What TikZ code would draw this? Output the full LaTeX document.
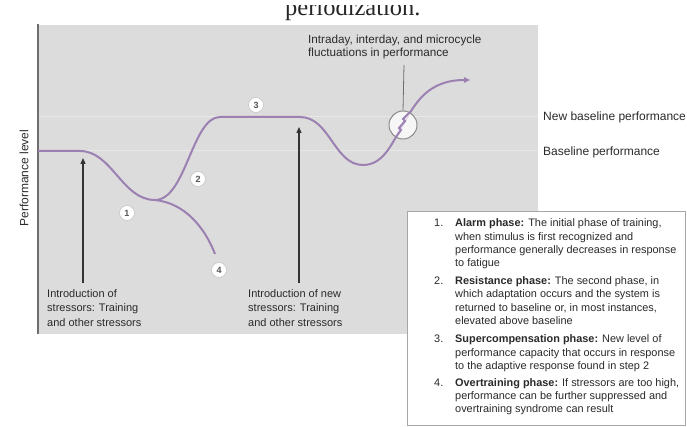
\documentclass[tikz,border=0pt]{standalone}
\usepackage{fontspec}
\setmainfont{Liberation Sans}
\newfontfamily\seriffont{Liberation Serif}
\usetikzlibrary{arrows.meta}
\definecolor{panel}{HTML}{DCDCDC}
\definecolor{bline}{HTML}{E8E8E8}
\definecolor{curvecol}{HTML}{9C80B2}
\definecolor{axiscol}{HTML}{6E6E6E}
\definecolor{txt}{HTML}{2A2A2A}
\begin{document}
\begin{tikzpicture}[x=1pt,y=-1pt,
  lbl/.style={inner sep=0pt, anchor=base west, font=\fontsize{11}{13}\selectfont, text=txt},
  lgd/.style={inner sep=0pt, anchor=base west, font=\fontsize{10.9}{13}\selectfont, text=txt},
  numc/.style={circle, fill=white, draw=gray!45, line width=0.6pt, inner sep=0pt, minimum size=15pt, font=\fontsize{9}{9}\selectfont\bfseries, text=txt!80},
  curve/.style={draw=curvecol, line width=2pt},
  stressarrow/.style={draw=black!80, line width=1.3pt, -{Triangle[length=6pt,width=5pt]}},
  leader/.style={draw=axiscol, line width=0.8pt}]
\useasboundingbox (0,0) rectangle (687,427);
% title, cut at the top
\node[inner sep=0pt, anchor=base west, font=\seriffont\fontsize{24.5}{26}\selectfont, text=black!85] (title) at (285,16) {periodization.};
\fill[white] (0,-10) rectangle (687,5);
% panel
\fill[panel] (38,25) rectangle (538,334);
\draw[bline, line width=1pt] (38,117) -- (538,117);
\draw[bline, line width=1pt] (38,151) -- (538,151);
\draw[axiscol, line width=2pt] (38,24) -- (38,334);
\node[rotate=90, inner sep=0pt, font=\fontsize{12}{13}\selectfont, text=txt] (ylab) at (24,178) {Performance level};
% coordinates
\coordinate (s0) at (38,151);
\coordinate (s1) at (80,151);
\coordinate (m1) at (155,200);
\coordinate (p0) at (220,117);
\coordinate (p1) at (300,117);
\coordinate (m2) at (363,165);
\coordinate (c) at (403,125);
\coordinate (e) at (470,80);
\coordinate (e4) at (215,254);
% curves
\draw[curve] (s0) -- (s1) .. controls (112,151) and (122,200) .. (m1)
  .. controls (186,200) and (192,117) .. (p0) -- (p1)
  .. controls (330,117) and (334,165) .. (m2)
  .. controls (385,165) and (393,140) .. (c);
\draw[curve, -{Triangle[length=6pt,width=5.5pt]}] (c) .. controls (415,103) and (428,80) .. (e);
\draw[curve] (m1) .. controls (185,203) and (205,228) .. (e4);
% circle of fluctuations
\coordinate (lt) at (404,65);
\node[circle, draw=axiscol!80, line width=1pt, fill=white, fill opacity=0.75, minimum size=28pt, inner sep=0pt] (fc) at (c) {};
\draw[curvecol, line width=2pt] (396,137) -- (401,130) -- (399,128) -- (405,121) -- (403,119) -- (410,112);
\draw[leader] (lt) -- (fc.north);
\node[lbl, font=\fontsize{11.7}{13}\selectfont] (ft1) at (308,44) {Intraday, interday, and microcycle};
\node[lbl, font=\fontsize{11.7}{13}\selectfont] (ft2) at (308,57) {fluctuations in performance};
% baseline labels
\node[lbl, font=\fontsize{12}{13}\selectfont] (nb) at (543,121) {New baseline performance};
\node[lbl, font=\fontsize{12}{13}\selectfont] (bp) at (543,156) {Baseline performance};
% number labels
\node[numc] (n1) at (127,213) {1};
\node[numc] (n2) at (198,179) {2};
\node[numc] (n3) at (256,105) {3};
\node[numc] (n4) at (219,270) {4};
% stressor arrows
\coordinate (a1b) at (83,283);
\coordinate (a1t) at (83,158);
\coordinate (a2b) at (299,283);
\coordinate (a2t) at (299,127);
\draw[stressarrow] (a1b) -- (a1t);
\draw[stressarrow] (a2b) -- (a2t);
\node[lbl] (i1a) at (47,297) {Introduction of};
\node[lbl] (i1b) at (47,311) {stressors: Training};
\node[lbl] (i1c) at (47,326) {and other stressors};
\node[lbl] (i2a) at (248,297) {Introduction of new};
\node[lbl] (i2b) at (248,311) {stressors: Training};
\node[lbl] (i2c) at (248,326) {and other stressors};
% legend box
\draw[fill=white, draw=gray!70, line width=1pt] (407,212) rectangle (685,425);
\node[lgd] (k1) at (434,227) {1.};
\node[lgd] (k1a) at (455,227) {\textbf{Alarm phase:} The initial phase of training,};
\node[lgd] (k1b) at (455,241) {when stimulus is first recognized and};
\node[lgd] (k1c) at (455,254) {performance generally decreases in response};
\node[lgd] (k1d) at (455,267) {to fatigue};
\node[lgd] (k2) at (434,284) {2.};
\node[lgd] (k2a) at (455,284) {\textbf{Resistance phase:} The second phase, in};
\node[lgd] (k2b) at (455,297) {which adaptation occurs and the system is};
\node[lgd] (k2c) at (455,311) {returned to baseline or, in most instances,};
\node[lgd] (k2d) at (455,324) {elevated above baseline};
\node[lgd] (k3) at (434,342) {3.};
\node[lgd] (k3a) at (455,342) {\textbf{Supercompensation phase:} New level of};
\node[lgd] (k3b) at (455,356) {performance capacity that occurs in response};
\node[lgd] (k3c) at (455,369) {to the adaptive response found in step 2};
\node[lgd] (k4) at (434,386) {4.};
\node[lgd] (k4a) at (455,386) {\textbf{Overtraining phase:} If stressors are too high,};
\node[lgd] (k4b) at (455,399) {performance can be further suppressed and};
\node[lgd] (k4c) at (455,412) {overtraining syndrome can result};
\end{tikzpicture}
\end{document}
